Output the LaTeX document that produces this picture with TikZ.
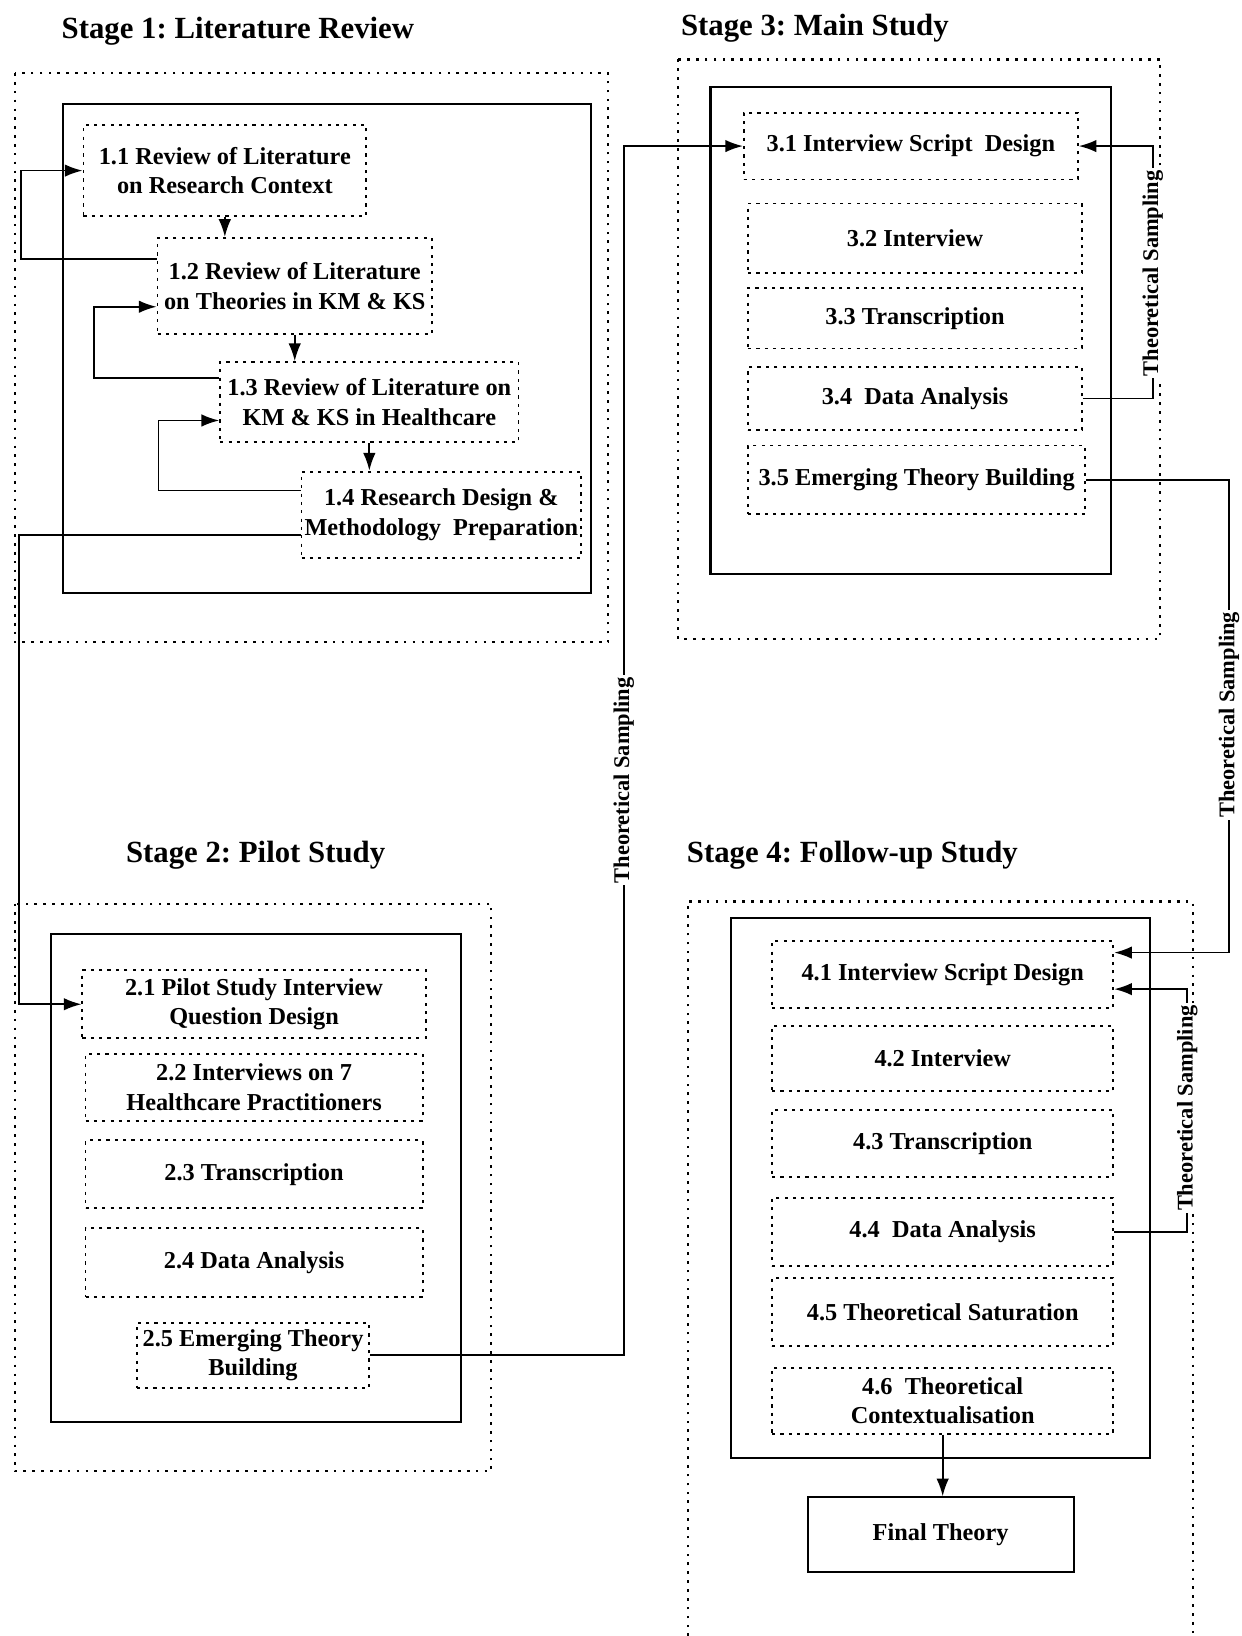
\documentclass[tikz,border=0pt]{standalone}
\usepackage{fontspec}
\setmainfont{Liberation Serif}
\usetikzlibrary{arrows.meta}
\frenchspacing
\begin{document}
\begin{tikzpicture}[x=1pt,y=-1pt,
  stepbox/.style={draw, line width=1.8pt, dash pattern=on 3pt off 5pt, align=center, inner sep=0pt,
    font=\fontsize{23.3}{28.5}\selectfont\bfseries},
  finalbox/.style={draw, line width=1.8pt, align=center, inner sep=0pt,
    font=\fontsize{23.3}{28.5}\selectfont\bfseries},
  solidframe/.style={draw, line width=2pt},
  dotframe/.style={draw, line width=2pt, dash pattern=on 2.5pt off 6pt},
  conn/.style={draw, line width=1.7pt, -{Latex[length=17pt,width=12pt]}},
  tslabel/.style={rotate=90, fill=white, inner sep=2pt, font=\fontsize{21.5}{25}\selectfont\bfseries},
  stagetitle/.style={font=\fontsize{29.5}{33}\selectfont\bfseries}]

\useasboundingbox[fill=white] (0,0) rectangle (1190,1568);

% ---------- Stage 1 ----------
\node[stagetitle] (t1) at (228,30) {Stage 1: Literature Review};
\draw[dotframe] (14,70) rectangle (583,615);
\draw[solidframe] (60,100) rectangle (566,568);
\node[stepbox, minimum width=271pt, minimum height=87pt] (n11) at (215.5,163.5)
  {1.1 Review of Literature\\on Research Context};
\node[stepbox, minimum width=263pt, minimum height=92pt] (n12) at (282.5,274)
  {1.2 Review of Literature\\on Theories in KM \& KS};
\node[stepbox, minimum width=286pt, minimum height=77pt] (n13) at (354,385.5)
  {1.3 Review of Literature on\\KM \& KS in Healthcare};
\node[stepbox, minimum width=268pt, minimum height=83pt] (n14) at (423,493.5)
  {1.4 Research Design \&\\Methodology\ \ Preparation};

% ---------- Stage 2 ----------
\node[stagetitle] (t2) at (245,820) {Stage 2: Pilot Study};
\draw[dotframe] (14,866) rectangle (471,1410);
\draw[solidframe] (49,895) rectangle (442,1363);
\node[stepbox, minimum width=329pt, minimum height=65pt] (n21) at (243.5,962.5)
  {2.1 Pilot Study Interview\\Question Design};
\node[stepbox, minimum width=323pt, minimum height=64pt] (n22) at (243.5,1042)
  {2.2 Interviews on 7\\Healthcare Practitioners};
\node[stepbox, minimum width=323pt, minimum height=65pt] (n23) at (243.5,1125.5)
  {2.3 Transcription};
\node[stepbox, minimum width=323pt, minimum height=66pt] (n24) at (243.5,1210)
  {2.4 Data Analysis};
\node[stepbox, minimum width=223pt, minimum height=62pt] (n25) at (242.5,1299)
  {2.5 Emerging Theory\\Building};

% ---------- Stage 3 ----------
\node[stagetitle] (t3) at (781,27) {Stage 3: Main Study};
\draw[dotframe] (650,57) rectangle (1112,612);
\draw[solidframe] (681,83) rectangle (1065,550);
\node[stepbox, minimum width=320pt, minimum height=64pt] (n31) at (873,140)
  {3.1 Interview Script\ \ Design};
\node[stepbox, minimum width=320pt, minimum height=67pt] (n32) at (877,228.5)
  {3.2 Interview};
\node[stepbox, minimum width=320pt, minimum height=58pt] (n33) at (877,305)
  {3.3 Transcription};
\node[stepbox, minimum width=320pt, minimum height=60pt] (n34) at (877,382)
  {3.4\ \ Data Analysis};
\node[stepbox, minimum width=323pt, minimum height=66pt] (n35) at (878.5,460)
  {3.5 Emerging Theory Building};

% ---------- Stage 4 ----------
\node[stagetitle] (t4) at (817,820) {Stage 4: Follow-up Study};
\draw[dotframe] (659,1568) -- (659,864) -- (1143,864) -- (1143,1568);
\draw[solidframe] (701,880) rectangle (1102,1397);
\node[stepbox, minimum width=327pt, minimum height=64pt] (n41) at (903.5,934)
  {4.1 Interview Script Design};
\node[stepbox, minimum width=327pt, minimum height=63pt] (n42) at (903.5,1014.5)
  {4.2 Interview};
\node[stepbox, minimum width=327pt, minimum height=64pt] (n43) at (903.5,1096)
  {4.3 Transcription};
\node[stepbox, minimum width=327pt, minimum height=65pt] (n44) at (903.5,1180.5)
  {4.4\ \ Data Analysis};
\node[stepbox, minimum width=327pt, minimum height=65pt] (n45) at (903.5,1257.5)
  {4.5 Theoretical Saturation};
\node[stepbox, minimum width=327pt, minimum height=63pt] (n46) at (903.5,1342.5)
  {4.6\ \ Theoretical\\Contextualisation};
\node[finalbox, minimum width=255pt, minimum height=72pt] (fin) at (901.5,1471)
  {Final Theory};

% ---------- Connectors inside Stage 1 ----------
\draw[conn] (n11.south) -- (n11.south |- n12.north);
\draw[conn] (n12.south) -- (n12.south |- n13.north);
\draw[conn] (n13.south) -- (n13.south |- n14.north);
\draw[conn] (n12.west |- 0,248) -- (20,248) |- (n11.west);
\draw[conn] (n13.west |- 0,362) -- (90,362) |- (n12.west |- 0,294);
\draw[conn] (n14.west |- 0,470) -- (152,470) |- (n13.west |- 0,403);

% ---------- Stage 1 to Stage 2 ----------
\draw[conn] (n14.west |- 0,513) -- (18,513) |- (n21.west);

% ---------- Stage 2 to Stage 3 ----------
\draw[conn] (n25.east) -- (598,1299) |- (n31.west);
\node[tslabel] (lbl1) at (598,748) {Theoretical Sampling};

% ---------- Stage 3 loop ----------
\draw[conn] (n34.east) -- (1105,382) |- (n31.east);
\node[tslabel] (lbl2) at (1105,262) {Theoretical Sampling};

% ---------- Stage 3 to Stage 4 ----------
\draw[conn] (n35.east) -- (1178,460) |- (n41.east |- 0,913);
\node[tslabel] (lbl3) at (1178,685) {Theoretical Sampling};

% ---------- Stage 4 loop ----------
\draw[conn] (n44.east) -- (1138,1180.5) |- (n41.east |- 0,948);
\node[tslabel] (lbl4) at (1138,1062) {Theoretical Sampling};

% ---------- Final theory ----------
\draw[conn] (n46.south) -- (n46.south |- fin.north);

\end{tikzpicture}
\end{document}
